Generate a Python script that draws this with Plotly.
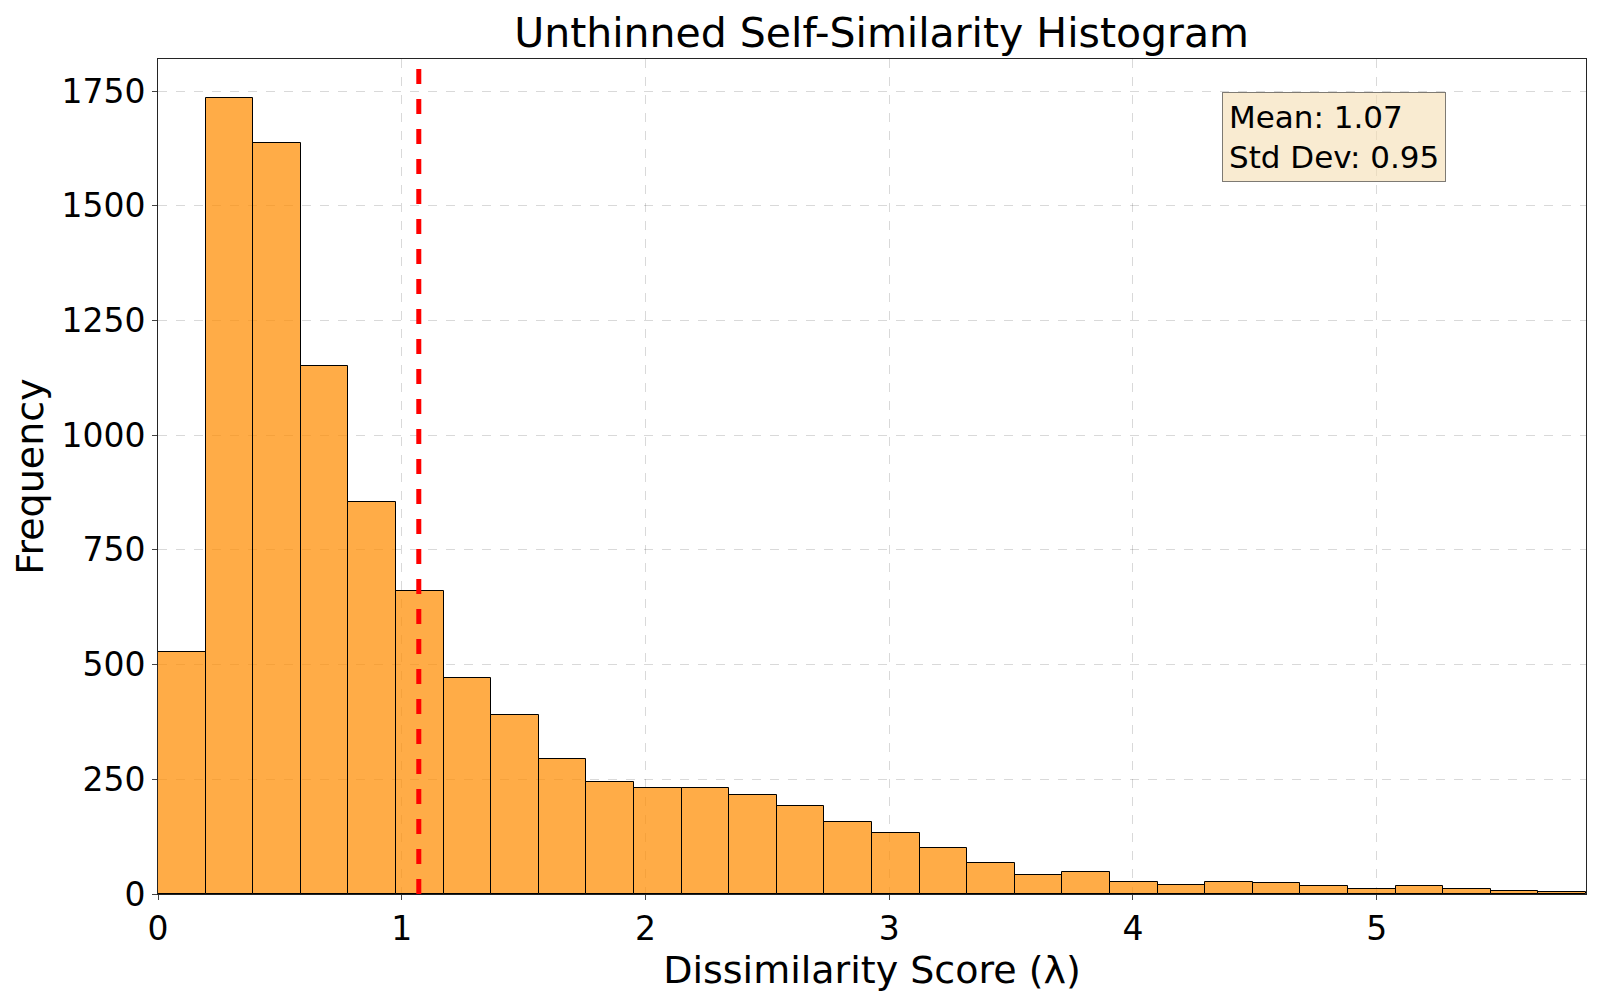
import plotly.graph_objects as go

counts = [528, 1734, 1637, 1150, 855, 660, 471, 391, 295, 244, 231, 231, 215, 191, 158,
          133, 100, 67, 42, 47, 27, 20, 27, 24, 18, 11, 18, 11, 7, 4]
bin_start = 0.0
bin_width = 0.1953
mean_val = 1.07
std_val = 0.95

centers = [bin_start + (i + 0.5) * bin_width for i in range(len(counts))]
x_max = bin_start + len(counts) * bin_width

fig = go.Figure()
fig.add_trace(go.Bar(x=centers, y=counts, width=[bin_width] * len(counts),
                     marker=dict(color="rgba(255,140,0,0.72)", line=dict(color="black", width=1))))
fig.add_trace(go.Scatter(x=[mean_val, mean_val], y=[0, 1820], mode="lines", hoverinfo="skip",
                         line=dict(color="red", width=5, dash="dash")))
fig.add_annotation(x=0.745, y=0.96, xref="paper", yref="paper", xanchor="left", yanchor="top",
                   text=f"Mean: {mean_val:.2f}<br>Std Dev: {std_val:.2f}", align="left",
                   showarrow=False, font=dict(size=31, color="black"),
                   bgcolor="rgba(245,222,179,0.6)", bordercolor="rgba(0,0,0,0.5)", borderwidth=1, borderpad=6)
fig.update_layout(
    width=1600, height=1000, template="simple_white", showlegend=False, bargap=0,
    font=dict(family="DejaVu Sans", size=33, color="black"),
    title=dict(text="Unthinned Self-Similarity Histogram", x=0.546, xanchor="center", y=0.99, font=dict(size=41)),
    margin=dict(l=150, r=22, t=51, b=114),
    xaxis=dict(title=dict(text="Dissimilarity Score (λ)", font=dict(size=38), standoff=8), range=[0, x_max],
               tickvals=[0, 1, 2, 3, 4, 5], showgrid=True, gridcolor="rgba(0,0,0,0.15)", griddash="dash",
               mirror=True, showline=True, ticks="outside", linewidth=1),
    yaxis=dict(title=dict(text="Frequency", font=dict(size=38), standoff=8), range=[0, 1820],
               tickvals=[0, 250, 500, 750, 1000, 1250, 1500, 1750], showgrid=True,
               gridcolor="rgba(0,0,0,0.15)", griddash="dash", mirror=True, showline=True,
               ticks="outside", linewidth=1),
)
fig.write_html("out.html")
